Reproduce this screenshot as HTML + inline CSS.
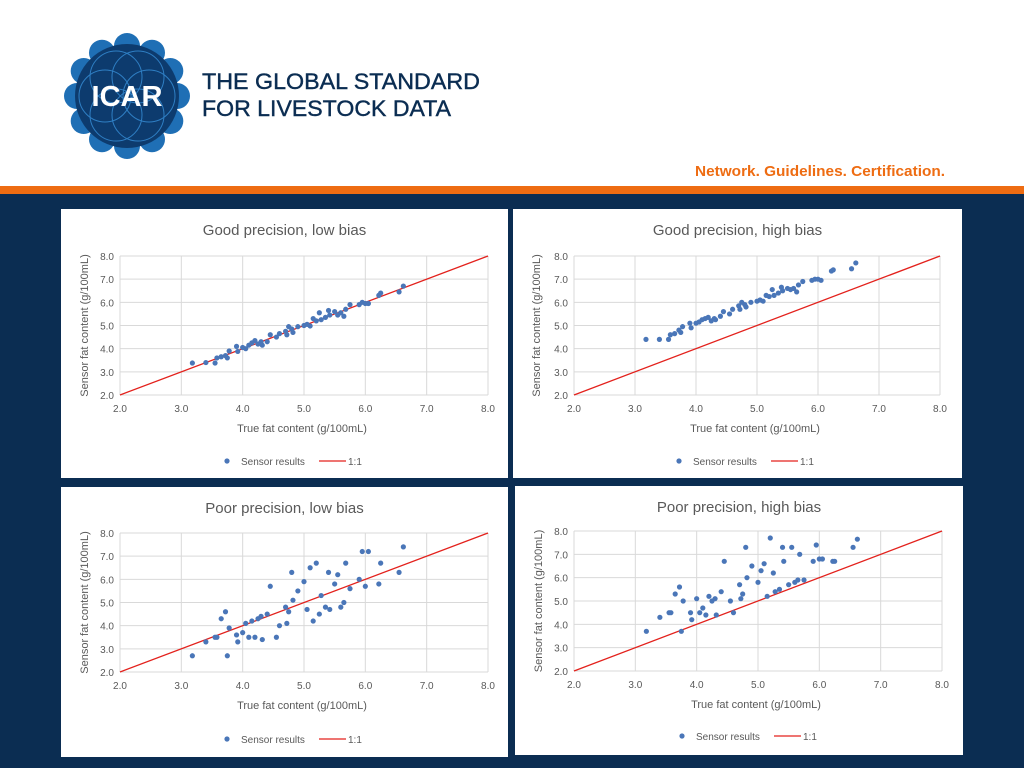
<!DOCTYPE html>
<html><head><meta charset="utf-8">
<style>
html,body{margin:0;padding:0;width:1024px;height:768px;overflow:hidden;background:#fff;font-family:"Liberation Sans",sans-serif;}
</style></head>
<body>
<svg id="page" width="1024" height="768" xmlns="http://www.w3.org/2000/svg" font-family="Liberation Sans, sans-serif">
  <rect x="0" y="0" width="1024" height="768" fill="#ffffff"/>
  <rect x="0" y="186" width="1024" height="8" fill="#ee6c12"/>
  <rect x="0" y="194" width="1024" height="574" fill="#0b2d52"/>
  <g id="logo"></g>
  <text x="202" y="89" font-size="22" fill="#0b2d52" stroke="#0b2d52" stroke-width="0.4" textLength="278" lengthAdjust="spacingAndGlyphs">THE GLOBAL STANDARD</text>
  <text x="202" y="116" font-size="22" fill="#0b2d52" stroke="#0b2d52" stroke-width="0.4" textLength="249" lengthAdjust="spacingAndGlyphs">FOR LIVESTOCK DATA</text>
  <text x="945" y="176" text-anchor="end" font-size="15" font-weight="bold" fill="#ee6c12" textLength="250" lengthAdjust="spacingAndGlyphs">Network. Guidelines. Certification.</text>
  <g id="charts"></g>
</svg>
<script>
const xValues = [3.18,3.4,3.55,3.58,3.65,3.72,3.75,3.78,3.9,3.92,4.0,4.05,4.1,4.15,4.2,4.25,4.3,4.32,4.4,4.45,4.55,4.6,4.7,4.72,4.75,4.8,4.82,4.9,5.0,5.05,5.1,5.15,5.2,5.25,5.28,5.35,5.4,5.42,5.5,5.55,5.6,5.65,5.68,5.75,5.9,5.95,6.0,6.05,6.22,6.25,6.55,6.62];
const goodLowY = [3.38,3.4,3.38,3.6,3.65,3.7,3.6,3.9,4.1,3.88,4.05,4.0,4.15,4.25,4.35,4.2,4.3,4.15,4.3,4.6,4.5,4.65,4.75,4.6,4.95,4.85,4.7,4.95,5.0,5.05,4.98,5.3,5.2,5.55,5.25,5.35,5.65,5.45,5.6,5.45,5.55,5.4,5.7,5.9,5.9,6.0,5.95,5.95,6.3,6.4,6.45,6.7];
const goodHighY = [4.4,4.4,4.4,4.6,4.65,4.8,4.7,4.95,5.1,4.9,5.1,5.15,5.25,5.3,5.35,5.2,5.3,5.25,5.4,5.6,5.5,5.7,5.85,5.7,6.0,5.9,5.8,6.0,6.05,6.1,6.05,6.3,6.25,6.55,6.3,6.4,6.65,6.5,6.6,6.55,6.6,6.45,6.75,6.9,6.95,7.0,7.0,6.95,7.35,7.4,7.45,7.7];
const poorLowY = [2.7,3.3,3.5,3.5,4.3,4.6,2.7,3.9,3.6,3.3,3.7,4.1,3.5,4.2,3.5,4.3,4.4,3.4,4.5,5.7,3.5,4.0,4.8,4.1,4.6,6.3,5.1,5.5,5.9,4.7,6.5,4.2,6.7,4.5,5.3,4.8,6.3,4.7,5.8,6.2,4.8,5.0,6.7,5.6,6.0,7.2,5.7,7.2,5.8,6.7,6.3,7.4];
const poorHighY = [3.7,4.3,4.5,4.5,5.3,5.6,3.7,5.0,4.5,4.2,5.1,4.5,4.7,4.4,5.2,5.0,5.1,4.4,5.4,6.7,5.0,4.5,5.7,5.1,5.3,7.3,6.0,6.5,5.8,6.3,6.6,5.2,7.7,6.2,5.4,5.5,7.3,6.7,5.7,7.3,5.8,5.9,7.0,5.9,6.7,7.4,6.8,6.8,6.7,6.7,7.3,7.65];
const tickValues = [2.0,3.0,4.0,5.0,6.0,7.0,8.0];
const chartTitles = ["Good precision, low bias","Good precision, high bias","Poor precision, low bias","Poor precision, high bias"];

const NS="http://www.w3.org/2000/svg";
function mk(tag,attrs,parent){const e=document.createElementNS(NS,tag);for(const k in attrs)e.setAttribute(k,attrs[k]);parent.appendChild(e);return e;}

// logo
const logo=document.getElementById('logo');
const cx=127,cy=96;
for(let i=0;i<12;i++){const a=i*Math.PI/6;
  const c=mk('circle',{cx:cx+50*Math.cos(a),cy:cy+50*Math.sin(a),r:13,fill:'#1f6fb5'},logo);
  
  
}
const lc=mk('circle',{cx:cx,cy:cy,r:52,fill:'#0d3b6e'},logo);


for(let i=0;i<6;i++){const a=i*Math.PI/3;
  const r=mk('circle',{cx:cx+22*Math.cos(a),cy:cy+22*Math.sin(a),r:26,fill:'none',stroke:'#2f7fc4','stroke-width':1},logo);
  
  
}
const lt=mk('text',{x:cx,y:cy+10,'text-anchor':'middle','font-size':29,'font-weight':'bold',fill:'#ffffff'},logo);
lt.textContent='ICAR';



const panels=[
 {px:61,py:209,pw:447,ph:269,x0:120,x1:488,yTop:256,yBot:395,ys:goodLowY,name:'chart-good-precision-low-bias'},
 {px:513,py:209,pw:449,ph:269,x0:574,x1:940,yTop:256,yBot:395,ys:goodHighY,name:'chart-good-precision-high-bias'},
 {px:61,py:487,pw:447,ph:270,x0:120,x1:488,yTop:533,yBot:672,ys:poorLowY,name:'chart-poor-precision-low-bias'},
 {px:515,py:486,pw:448,ph:269,x0:574,x1:942,yTop:531,yBot:671,ys:poorHighY,name:'chart-poor-precision-high-bias'}
];
const charts=document.getElementById('charts');
panels.forEach((p,idx)=>{
  const g=mk('g',{},charts);
  
  
  const bg=mk('rect',{x:p.px,y:p.py,width:p.pw,height:p.ph,fill:'#ffffff'},g);
  
  
  const sx=v=>p.x0+(v-2)/6*(p.x1-p.x0);
  const sy=v=>p.yBot-(v-2)/6*(p.yBot-p.yTop);
  tickValues.forEach(t=>{
    const gh=mk('line',{x1:p.x0,x2:p.x1,y1:sy(t),y2:sy(t),stroke:'#d9d9d9','stroke-width':1},g);
    
    
    const gv=mk('line',{x1:sx(t),x2:sx(t),y1:p.yTop,y2:p.yBot,stroke:'#d9d9d9','stroke-width':1},g);
    
    
    const tx=mk('text',{x:sx(t),y:p.yBot+17,'text-anchor':'middle','font-size':10,fill:'#595959'},g);
    tx.textContent=t.toFixed(1);
    
    
    const ty=mk('text',{x:p.x0-6,y:sy(t)+4,'text-anchor':'end','font-size':10,fill:'#595959'},g);
    ty.textContent=t.toFixed(1);
    
    
  });
  const title=mk('text',{x:(p.px+p.pw/2),y:p.py+26,'text-anchor':'middle','font-size':15,fill:'#595959'},g);
  title.textContent=chartTitles[idx];
  
  
  const xt=mk('text',{x:(p.x0+p.x1)/2-2,y:p.yBot+37,'text-anchor':'middle','font-size':11,fill:'#595959'},g);
  xt.textContent='True fat content (g/100mL)';
  
  
  const ycx=p.px+27, ycy=(p.yTop+p.yBot)/2;
  const yt=mk('text',{x:ycx,y:ycy,'text-anchor':'middle','font-size':11,fill:'#595959',transform:`rotate(-90 ${ycx} ${ycy})`},g);
  yt.textContent='Sensor fat content (g/100mL)';
  
  
  const ln=mk('line',{x1:sx(2),y1:sy(2),x2:sx(8),y2:sy(8),stroke:'#e3211c','stroke-width':1.3},g);
  
  
  xValues.forEach((xv,i)=>{
    const c=mk('circle',{cx:sx(xv),cy:sy(p.ys[i]),r:2.6,fill:'#4a76b8'},g);
    
    
  });
  const ly=p.py+ (idx===3?250:252);
  const lx=p.px+ (idx===3?167:166);
  const ld=mk('circle',{cx:lx,cy:ly,r:2.6,fill:'#4a76b8'},g);
  
  
  const l1=mk('text',{x:lx+14,y:ly+4,'font-size':10,fill:'#595959'},g);
  l1.textContent='Sensor results';
  
  
  const ll=mk('line',{x1:lx+92,x2:lx+119,y1:ly,y2:ly,stroke:'#e3211c','stroke-width':1.3},g);
  
  
  const l2=mk('text',{x:lx+121,y:ly+4,'font-size':10,fill:'#595959'},g);
  l2.textContent='1:1';
  
  
});
</script>
</body></html>
